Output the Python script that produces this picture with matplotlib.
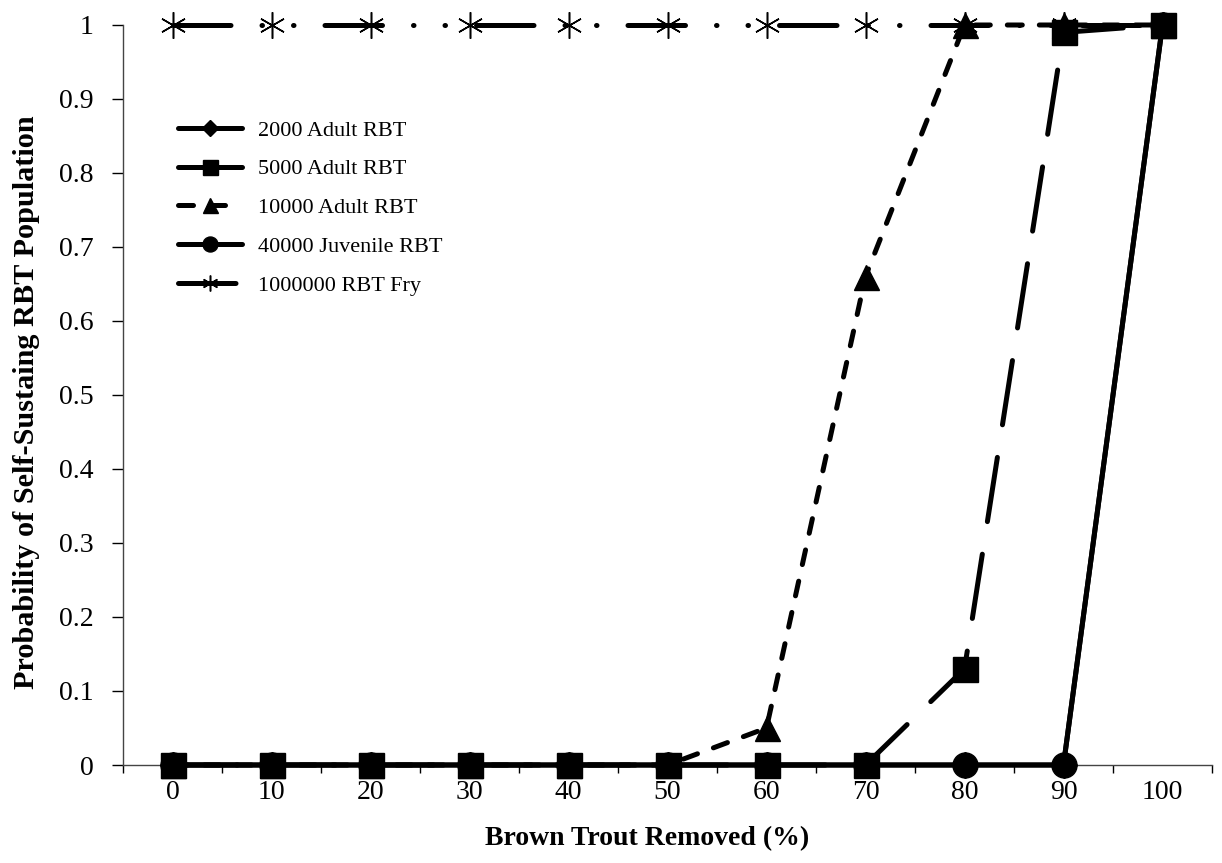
import numpy as np
import matplotlib
matplotlib.use("Agg")
import matplotlib.pyplot as plt
from matplotlib.ticker import FixedLocator, FuncFormatter

# ── Data ─────────────────────────────────────────────────────────────────────
removed = [0, 10, 20, 30, 40, 50, 60, 70, 80, 90, 100]

adult_2000  = [0, 0, 0, 0, 0, 0, 0, 0, 0, 0, 1]
adult_5000  = [0, 0, 0, 0, 0, 0, 0, 0, 0.13, 0.99, 1]
adult_10000 = [0, 0, 0, 0, 0, 0, 0.05, 0.66, 1, 1, 1]
juv_40000   = [0, 0, 0, 0, 0, 0, 0, 0, 0, 0, 1]
fry_1000000 = [1, 1, 1, 1, 1, 1, 1, 1, 1, 1, 1]

labels = ["2000 Adult RBT", "5000 Adult RBT", "10000 Adult RBT",
          "40000 Juvenile RBT", "1000000 RBT Fry"]

# ── Style ────────────────────────────────────────────────────────────────────
plt.rcParams["font.family"] = ["Liberation Serif", "DejaVu Serif"]
W, H = 1222, 863
LW = 3.6

fig = plt.figure(figsize=(W / 100, H / 100), dpi=100)
ax = fig.add_axes([123 / W, 1 - 765 / H, (1212 - 123) / W, (765 - 25) / H])

pos = np.arange(len(removed))
common = dict(color="black", lw=LW, clip_on=False,
              solid_capstyle="round", dash_capstyle="round")

ax.plot(pos, adult_2000, marker="D", ms=13, label=labels[0], zorder=3, **common)
ax.plot(pos, adult_10000, marker="^", ms=18, ls=(0, (3, 3.4)),
        label=labels[2], zorder=4, **common)
ax.plot(pos, juv_40000, marker="o", ms=18, label=labels[3], zorder=5, **common)
ax.plot(pos, fry_1000000, marker=(6, 2, 0), ms=19, mew=1.1,
        ls=(0, (11.5, 6.2, 0.1, 6.2, 0.1, 6.2)), label=labels[4], zorder=6, **common)
ax.plot(pos, adult_5000, marker="s", ms=18, ls=(0, (13, 6.6)),
        label=labels[1], zorder=7, **common)

# ── Axes ─────────────────────────────────────────────────────────────────────
ax.set_xlim(-0.5, len(removed) - 0.5)
ax.set_ylim(0, 1)
ax.set_xticks(pos)
ax.set_xticklabels([str(v) for v in removed])
ax.xaxis.set_minor_locator(FixedLocator(np.arange(-0.5, len(removed), 1.0)))
ax.tick_params(axis="x", which="major", length=0, pad=11, labelsize=20)
ax.tick_params(axis="x", which="minor", length=6, width=1, direction="out")
ax.set_yticks(np.arange(0, 1.01, 0.1))
ax.yaxis.set_major_formatter(FuncFormatter(lambda v, p: f"{v:g}"))
ax.tick_params(axis="y", length=8, width=1, direction="out", pad=13, labelsize=20)

for s in ["top", "right"]:
    ax.spines[s].set_visible(False)
for s in ["left", "bottom"]:
    ax.spines[s].set_color("#444444")
    ax.spines[s].set_linewidth(1)

ax.set_xlabel("Brown Trout Removed (%)", fontsize=20, fontweight="bold")
ax.xaxis.set_label_coords(0.481, -0.083)
ax.set_ylabel("Probability of Self-Sustaing RBT Population", fontsize=21.8,
              fontweight="bold")
ax.yaxis.set_label_coords(-0.076, 0.49)

# legend in series order
h, l = ax.get_legend_handles_labels()
order = [labels.index(x) for x in l]
pairs = sorted(zip(order, h, l))
ax.legend([p[1] for p in pairs], [p[2] for p in pairs],
          loc="upper left", bbox_to_anchor=(178 / W, 1 - 120 / H),
          bbox_transform=fig.transFigure, frameon=False, fontsize=16,
          handlelength=2.9, handletextpad=0.7, labelspacing=0.82,
          borderpad=0, borderaxespad=0, markerscale=0.6, numpoints=1)

fig.savefig("out.png", dpi=100)
